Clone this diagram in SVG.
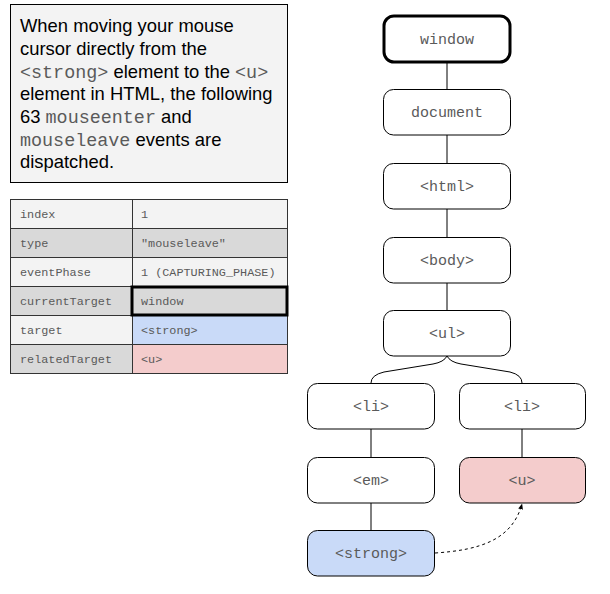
<svg xmlns="http://www.w3.org/2000/svg" width="610" height="594" viewBox="0 0 610 594">
<style>
.node rect{fill:#fff;stroke:#000;stroke-width:1}
.node text{font-family:"Liberation Mono",monospace;font-size:15px;fill:#5a5a5a;text-anchor:middle}
.intro{font-family:"Liberation Sans",Arial,sans-serif;font-size:18.4px;fill:#000}
.mono{font-family:"Liberation Mono",monospace;fill:#5a5a5a}
.cell{stroke:#333;stroke-width:1}
.light{fill:#f3f3f3}
.dark{fill:#d9d9d9}
.tt{font-family:"Liberation Mono",monospace;font-size:11.8px;fill:#5a5a5a}
.conn path,.conn line{fill:none;stroke:#000;stroke-width:1}
</style>
<defs>
<marker id="ah" viewBox="0 0 10 10" refX="9" refY="5" markerWidth="6" markerHeight="6" orient="auto">
<path d="M0,1 L10,5 L0,9 z" fill="#000"/>
</marker>
</defs>
<rect width="610" height="594" fill="#fff"/>
<g id="intro">
<rect x="10.5" y="4.5" width="277" height="178" fill="#f3f3f3" stroke="#000" stroke-width="1"/>
<text class="intro" x="20" y="32">When moving your mouse</text>
<text class="intro" x="20" y="55">cursor directly from the</text>
<text class="intro" x="20" y="78"><tspan class="mono">&lt;strong&gt;</tspan> element to the <tspan class="mono">&lt;u&gt;</tspan></text>
<text class="intro" x="20" y="100">element in HTML, the following</text>
<text class="intro" x="20" y="123">63 <tspan class="mono">mouseenter</tspan> and</text>
<text class="intro" x="20" y="146"><tspan class="mono">mouseleave</tspan> events are</text>
<text class="intro" x="20" y="168">dispatched.</text>
</g>
<g id="table">
<rect class="cell light" x="10.5" y="199.5" width="122" height="29"/>
<rect class="cell light" x="132.5" y="199.5" width="155" height="29"/>
<rect class="cell dark" x="10.5" y="228.5" width="122" height="29"/>
<rect class="cell dark" x="132.5" y="228.5" width="155" height="29"/>
<rect class="cell light" x="10.5" y="257.5" width="122" height="29"/>
<rect class="cell light" x="132.5" y="257.5" width="155" height="29"/>
<rect class="cell dark" x="10.5" y="286.5" width="122" height="29"/>
<rect class="cell dark" x="132.5" y="286.5" width="155" height="29"/>
<rect class="cell light" x="10.5" y="315.5" width="122" height="29"/>
<rect class="cell" x="132.5" y="315.5" width="155" height="29" fill="#c9daf8"/>
<rect class="cell dark" x="10.5" y="344.5" width="122" height="29"/>
<rect class="cell" x="132.5" y="344.5" width="155" height="29" fill="#f4cccc"/>
<rect x="132" y="287" width="155" height="28" fill="none" stroke="#000" stroke-width="3"/>
<text class="tt" x="20" y="218">index</text>
<text class="tt" x="141" y="218">1</text>
<text class="tt" x="20" y="247">type</text>
<text class="tt" x="141" y="247">"mouseleave"</text>
<text class="tt" x="20" y="276">eventPhase</text>
<text class="tt" x="141" y="276">1 (CAPTURING_PHASE)</text>
<text class="tt" x="20" y="305">currentTarget</text>
<text class="tt" x="141" y="305">window</text>
<text class="tt" x="20" y="334">target</text>
<text class="tt" x="141" y="334">&lt;strong&gt;</text>
<text class="tt" x="20" y="363">relatedTarget</text>
<text class="tt" x="141" y="363">&lt;u&gt;</text>
</g>
<g id="connectors" class="conn">
<line x1="447" y1="62" x2="447" y2="89"/>
<line x1="447" y1="135" x2="447" y2="163"/>
<line x1="447" y1="209" x2="447" y2="237"/>
<line x1="447" y1="283" x2="447" y2="310"/>
<path d="M447,356 Q444,362 433,364 L384,372 Q371,375 371,383"/>
<path d="M447,356 Q450,362 461,364 L510,372 Q522,375 522,383"/>
<line x1="371" y1="429" x2="371" y2="457"/>
<line x1="522" y1="429" x2="522" y2="457"/>
<line x1="371" y1="503" x2="371" y2="530"/>
<path d="M435,553 C480,550 512,540 522,504" stroke-dasharray="3,3" marker-end="url(#ah)"/>
</g>
<g id="n-window" class="node">
<rect x="384" y="16" width="126" height="46" rx="10" style="stroke-width:3"/>
<text x="447" y="44">window</text>
</g>
<g id="n-document" class="node">
<rect x="383.5" y="89.5" width="127" height="45.5" rx="10"/>
<text x="447" y="117">document</text>
</g>
<g id="n-html" class="node">
<rect x="383.5" y="163.5" width="127" height="45.5" rx="10"/>
<text x="447" y="191">&lt;html&gt;</text>
</g>
<g id="n-body" class="node">
<rect x="383.5" y="237.5" width="127" height="45.5" rx="10"/>
<text x="447" y="265">&lt;body&gt;</text>
</g>
<g id="n-ul" class="node">
<rect x="383.5" y="310.5" width="127" height="45.5" rx="10"/>
<text x="447" y="338">&lt;ul&gt;</text>
</g>
<g id="n-li1" class="node">
<rect x="307.5" y="383.5" width="127" height="45.5" rx="10"/>
<text x="371" y="411">&lt;li&gt;</text>
</g>
<g id="n-li2" class="node">
<rect x="459.5" y="383.5" width="126" height="45.5" rx="10"/>
<text x="522" y="411">&lt;li&gt;</text>
</g>
<g id="n-em" class="node">
<rect x="307.5" y="457.5" width="127" height="45.5" rx="10"/>
<text x="371" y="485">&lt;em&gt;</text>
</g>
<g id="n-u" class="node">
<rect x="459.5" y="457.5" width="126" height="45.5" rx="10" style="fill:#f4cccc"/>
<text x="522" y="485">&lt;u&gt;</text>
</g>
<g id="n-strong" class="node">
<rect x="307.5" y="530.5" width="127" height="45.5" rx="10" style="fill:#c9daf8"/>
<text x="371" y="558">&lt;strong&gt;</text>
</g>
</svg>
